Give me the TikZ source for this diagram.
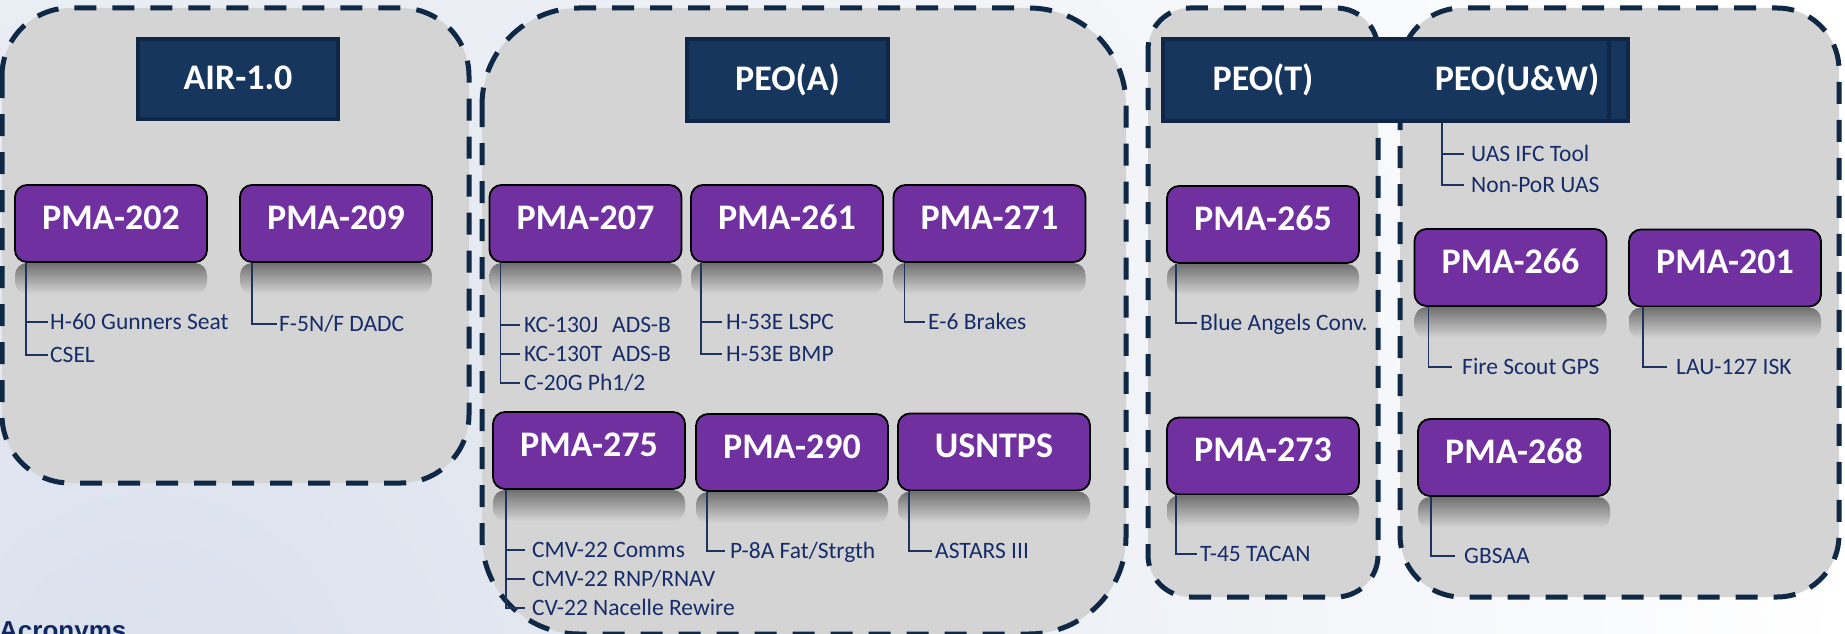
\documentclass[tikz,border=0pt]{standalone}
\usepackage{fontspec}
\setmainfont{Carlito}
\newfontfamily\myArialFont{Liberation Sans}
\usetikzlibrary{calc}
\definecolor{navyf}{RGB}{23,54,93}
\definecolor{navyb}{RGB}{16,38,70}
\definecolor{purp}{RGB}{112,48,160}
\definecolor{contfill}{RGB}{212,212,212}
\definecolor{dashc}{RGB}{14,40,70}
\definecolor{leafc}{RGB}{22,45,105}
\definecolor{treec}{RGB}{30,52,95}
\definecolor{reflc}{RGB}{112,112,112}
\definecolor{bgA}{RGB}{218,224,236}
\definecolor{acrc}{RGB}{16,40,95}
\newcommand\myTitleFont{\bfseries\fontsize{36}{40}\selectfont}
\newcommand\myLeafFont{\fontsize{23.5}{28}\selectfont}
\newcommand\pmabox[4]{%
  \shade[refl] (#2-96,#3+38.5+1) rectangle (#2+96,#3+38.5+32);
  \node[pma] (#1) at (#2,#3) {#4};
}
\tikzset{
  cont/.style={draw=dashc, line width=5pt, dash pattern=on 22pt off 16pt, fill=contfill},
  ttl/.style={fill=navyf, draw=navyb, line width=4pt, text=white, font=\myTitleFont,
    inner sep=0pt, text height=24pt, text depth=4pt},
  ttltext/.style={text=white, font=\myTitleFont, inner sep=0pt},
  pma/.style={fill=purp, draw=black, line width=1.8pt, rounded corners=12pt, text=white,
    font=\myTitleFont, minimum width=192pt, minimum height=77pt, inner sep=0pt,
    text height=23pt, text depth=12pt},
  leaf/.style={text=leafc, font=\myLeafFont, anchor=west, inner xsep=3pt, inner ysep=0pt,
    text height=18pt, text depth=4pt},
  tree/.style={draw=treec, line width=1.5pt},
  refl/.style={top color=reflc, bottom color=contfill, draw=none, rounded corners=12pt}
}
\begin{document}
\begin{tikzpicture}[x=1pt,y=-1pt]
\useasboundingbox (0,0) rectangle (1845,634);
% background
\fill[white] (0,0) rectangle (1845,634);
\begin{scope}
  \clip (0,0) rectangle (1845,634);
  \shade[inner color=bgA, outer color=white] (150,700) circle (1700pt);
\end{scope}
% containers
\draw[cont, rounded corners=68pt] (2,8) rectangle (469,483);
\draw[cont, rounded corners=97pt] (482,8) rectangle (1126,634);
\draw[cont, rounded corners=42pt] (1148,8) rectangle (1378,597);
\draw[cont, rounded corners=62pt] (1400,8) rectangle (1839,597);
% title boxes
\node[ttl, minimum width=200pt, minimum height=80pt] (air) at (238,79) {AIR-1.0};
\node[ttl, minimum width=201pt, minimum height=82pt] (peoa) at (787.5,80) {PEO(A)};
\node[ttl, minimum width=465pt, minimum height=82pt] (peotuw) at (1395.5,80) {};
\draw[navyb, line width=4pt] ([xshift=-21pt,yshift=-2pt]peotuw.north east) -- ([xshift=-21pt,yshift=2pt]peotuw.south east);
\node[ttltext, anchor=base] (peot) at (1263,90) {PEO(T)};
\node[ttltext, anchor=base] (peouw) at (1517,90) {PEO(U\&W)};
% PMA boxes
\pmabox{p202}{111}{223.5}{PMA-202}
\pmabox{p209}{336}{223.5}{PMA-209}
\pmabox{p207}{585.5}{223.5}{PMA-207}
\pmabox{p261}{787}{223.5}{PMA-261}
\pmabox{p271}{989.5}{223.5}{PMA-271}
\pmabox{p275}{589}{450.5}{PMA-275}
\pmabox{p290}{792}{452.5}{PMA-290}
\pmabox{usn}{994}{452}{USNTPS}
\pmabox{p265}{1263}{224.5}{PMA-265}
\pmabox{p273}{1263}{456}{PMA-273}
\pmabox{p266}{1510.5}{267.5}{PMA-266}
\pmabox{p201}{1725}{268}{PMA-201}
\pmabox{p268}{1514}{457.5}{PMA-268}
% leaves
\node[leaf, inner xsep=2pt] (l202a) at (48,322) {H-60 Gunners Seat};
\node[leaf, inner xsep=2pt] (l202b) at (48,355) {CSEL};
\node[leaf, inner xsep=2pt] (l209a) at (277,324) {F-5N/F DADC};
\node[leaf, inner xsep=4pt] (l207a) at (520,325) {\makebox[88pt][l]{KC-130J}ADS-B};
\node[leaf, inner xsep=4pt] (l207b) at (520,354) {\makebox[88pt][l]{KC-130T}ADS-B};
\node[leaf, inner xsep=4pt] (l207c) at (520,383) {C-20G Ph1/2};
\node[leaf, inner xsep=4pt] (l261a) at (722,322) {H-53E LSPC};
\node[leaf, inner xsep=4pt] (l261b) at (722,354) {H-53E BMP};
\node[leaf, inner xsep=3pt] (l271a) at (925,322) {E-6 Brakes};
\node[leaf, inner xsep=7pt] (l275a) at (525,550) {CMV-22 Comms};
\node[leaf, inner xsep=7pt] (l275b) at (525,579) {CMV-22 RNP/RNAV};
\node[leaf, inner xsep=7pt] (l275c) at (525,608) {CV-22 Nacelle Rewire};
\node[leaf, inner xsep=5pt] (l290a) at (725,551) {P-8A Fat/Strgth};
\node[leaf, inner xsep=3pt] (lusna) at (932,551) {ASTARS III};
\node[leaf, inner xsep=3pt] (l265a) at (1197,323) {Blue Angels Conv.};
\node[leaf, inner xsep=3pt] (l273a) at (1197,554) {T-45 TACAN};
\node[leaf, inner xsep=7pt] (luwa) at (1464,154) {UAS IFC Tool};
\node[leaf, inner xsep=7pt] (luwb) at (1464,185) {Non-PoR UAS};
\node[leaf, inner xsep=10pt] (l266a) at (1452,367) {Fire Scout GPS};
\node[leaf, inner xsep=9pt] (l201a) at (1667,367) {LAU-127 ISK};
\node[leaf, inner xsep=9pt] (l268a) at (1455,556) {GBSAA};
% stems
\coordinate (s202) at ($(p202.south west)+(12,0)$);
\coordinate (s209) at ($(p209.south west)+(13,0)$);
\coordinate (s207) at ($(p207.south west)+(12,0)$);
\coordinate (s261) at ($(p261.south west)+(11,0)$);
\coordinate (s271) at ($(p271.south west)+(12,0)$);
\coordinate (s275) at ($(p275.south west)+(14,0)$);
\coordinate (s290) at ($(p290.south west)+(12,0)$);
\coordinate (susn) at ($(usn.south west)+(12,0)$);
\coordinate (s265) at ($(p265.south west)+(10,0)$);
\coordinate (s273) at ($(p273.south west)+(10,0)$);
\coordinate (suw) at ($(peotuw.south west)+(281,0)$);
\coordinate (s266) at ($(p266.south west)+(15,0)$);
\coordinate (s201) at ($(p201.south west)+(15,0)$);
\coordinate (s268) at ($(p268.south west)+(14,0)$);
% connectors
\draw[tree] (s202) |- (l202b.west);
\draw[tree] (l202a.west) -- (s202 |- l202a.west);
\draw[tree] (s209) |- (l209a.west);
\draw[tree] (s207) |- (l207c.west);
\draw[tree] (l207a.west) -- (s207 |- l207a.west);
\draw[tree] (l207b.west) -- (s207 |- l207b.west);
\draw[tree] (s261) |- (l261b.west);
\draw[tree] (l261a.west) -- (s261 |- l261a.west);
\draw[tree] (s271) |- (l271a.west);
\draw[tree] (s275) |- (l275c.west);
\draw[tree] (l275a.west) -- (s275 |- l275a.west);
\draw[tree] (l275b.west) -- (s275 |- l275b.west);
\draw[tree] (s290) |- (l290a.west);
\draw[tree] (susn) |- (lusna.west);
\draw[tree] (s265) |- (l265a.west);
\draw[tree] (s273) |- (l273a.west);
\draw[tree] (suw) |- (luwb.west);
\draw[tree] (luwa.west) -- (suw |- luwa.west);
\draw[tree] (s266) |- (l266a.west);
\draw[tree] (s201) |- (l201a.west);
\draw[tree] (s268) |- (l268a.west);
% acronyms
\node[anchor=base west, inner sep=0pt, text=acrc, font=\myArialFont\bfseries\fontsize{26}{30}\selectfont] (acr) at (-1,639) {Acronyms};
\end{tikzpicture}
\end{document}
